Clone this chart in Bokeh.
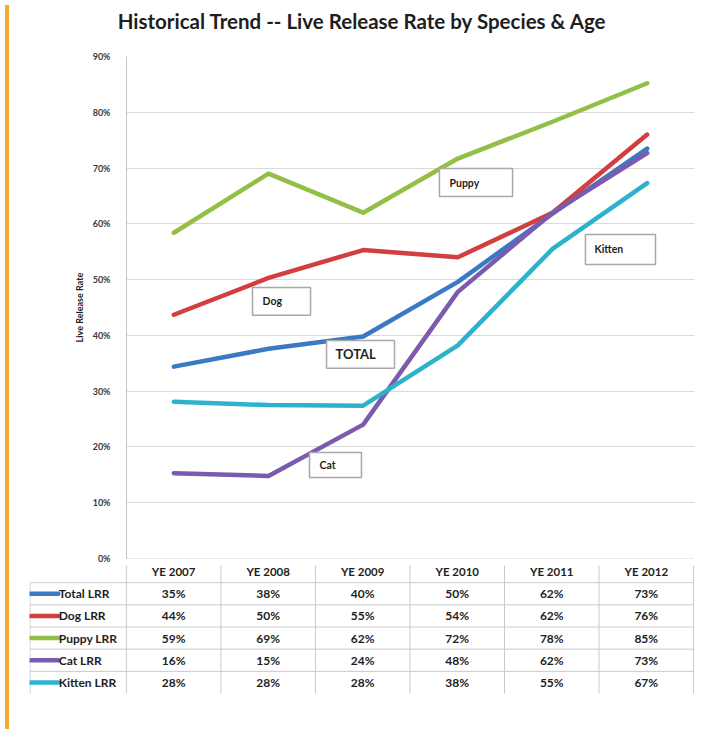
from bokeh.plotting import figure
from bokeh.models import Range1d, FactorRange, Div, FixedTicker, ColumnDataSource, Span
from bokeh.layouts import row, column
from bokeh.embed import file_html
from bokeh.resources import INLINE
from bokeh.core.properties import value

# ---------------- data ----------------
title_text = "Historical Trend -- Live Release Rate by Species & Age"
years = ["YE 2007", "YE 2008", "YE 2009", "YE 2010", "YE 2011", "YE 2012"]
series_names = ["Total LRR", "Dog LRR", "Puppy LRR", "Cat LRR", "Kitten LRR"]

# plotted line values (percent)
total_lrr = [34.4, 37.6, 39.8, 49.6, 61.8, 73.5]
dog_lrr = [43.7, 50.3, 55.3, 54.0, 62.0, 76.0]
puppy_lrr = [58.4, 69.0, 62.0, 71.7, 78.3, 85.2]
cat_lrr = [15.3, 14.8, 24.0, 47.8, 62.0, 72.7]
kitten_lrr = [28.1, 27.5, 27.4, 38.2, 55.5, 67.3]

# values printed in the data table (percent)
total_tab = [35, 38, 40, 50, 62, 73]
dog_tab = [44, 50, 55, 54, 62, 76]
puppy_tab = [59, 69, 62, 72, 78, 85]
cat_tab = [16, 15, 24, 48, 62, 73]
kitten_tab = [28, 28, 28, 38, 55, 67]

y_ticks = [0, 10, 20, 30, 40, 50, 60, 70, 80, 90]

callout_text = ["Puppy", "Kitten", "Dog", "TOTAL", "Cat"]

colors = ["#3A79C3", "#D13F3E", "#94BF45", "#7C5AAD", "#2DB2CB"]
line_series = [total_lrr, dog_lrr, puppy_lrr, cat_lrr, kitten_lrr]
table_series = [total_tab, dog_tab, puppy_tab, cat_tab, kitten_tab]

FONT = "Lato"
TXT = "#1e1e1e"
W = 682

# ---------------- title strip ----------------
tt = figure(x_range=Range1d(0, W), y_range=Range1d(36, 0), width=W, height=36,
            output_backend="svg", toolbar_location=None, frame_align=False,
            min_border_left=0, min_border_right=0, min_border_top=0, min_border_bottom=0)
tt.axis.visible = False
tt.grid.visible = False
tt.outline_line_color = None
tt.border_fill_color = "white"
tt.text(x=[348], y=[20], text=[title_text], text_font=value(FONT), text_font_style="bold",
        text_font_size="20.5px", text_color=TXT, text_align="center", text_baseline="middle")

# ---------------- chart ----------------
p = figure(x_range=FactorRange(*years), y_range=Range1d(0, 90),
           width=W, height=529, output_backend="svg", toolbar_location=None, frame_align=False,
           min_border_left=112, min_border_right=2, min_border_top=20, min_border_bottom=7)
p.outline_line_color = None
p.background_fill_color = "white"
p.border_fill_color = "white"
p.xaxis.visible = False
p.xgrid.visible = False

ticker = FixedTicker(ticks=y_ticks)
p.yaxis.ticker = ticker
p.yaxis.major_label_overrides = {t: f"{t}%" for t in y_ticks}
p.yaxis.axis_line_color = "#C4C4C4"
p.yaxis.major_tick_line_color = None
p.yaxis.minor_tick_line_color = None
p.yaxis.major_label_standoff = 10
p.yaxis.major_label_text_font = FONT
p.yaxis.major_label_text_font_size = "9px"
p.yaxis.major_label_text_font_style = "bold"
p.yaxis.major_label_text_color = "#3a3a3a"
p.yaxis.axis_label = "Live Release Rate"
p.yaxis.axis_label_text_font = FONT
p.yaxis.axis_label_text_font_size = "9px"
p.yaxis.axis_label_text_font_style = "bold"
p.yaxis.axis_label_text_color = TXT
p.yaxis.axis_label_standoff = 5
p.ygrid.ticker = ticker
p.ygrid.grid_line_color = "#D9D9D9"

p.add_layout(Span(location=0, dimension="width", line_color="#B0B0B0",
                  line_width=1, line_dash="2 2"))

for vals, c in zip(line_series, colors):
    p.line(years, vals, line_width=4.5, color=c, line_join="round", line_cap="round")

# callout boxes (positions in axis units)
box_src = ColumnDataSource(dict(
    left=[3.306, 4.848, 1.331, 2.113, 1.933],
    right=[4.078, 5.588, 1.944, 2.831, 2.482],
    top=[69.9, 58.1, 48.6, 39.1, 19.0],
    bottom=[64.9, 52.7, 43.6, 34.1, 14.5],
    tx=[3.412, 4.943, 1.437, 2.208, 2.039],
    ty=[67.4, 55.4, 46.1, 36.6, 16.8],
    text=callout_text,
    size=["10.5px", "10.5px", "10.5px", "13px", "10.5px"],
))
p.quad(left="left", right="right", top="top", bottom="bottom", source=box_src,
       fill_color="white", line_color="#A8A8A8", line_width=1.5)
p.text(x="tx", y="ty", text="text", source=box_src, text_font=value(FONT),
       text_font_style="bold", text_font_size="size", text_color=TXT,
       text_align="left", text_baseline="middle")

# ---------------- data table ----------------
ncol = len(years)
nrow = len(series_names)
xl = -1.0246
t = figure(x_range=Range1d(xl, ncol + 0.01), y_range=Range1d(6.315, 0.2255),
           width=W, height=159, output_backend="svg", toolbar_location=None, frame_align=False,
           min_border_left=15, min_border_right=2, min_border_top=0, min_border_bottom=24)
t.axis.visible = False
t.grid.visible = False
t.outline_line_color = None
t.border_fill_color = "white"

gc = "#C9C9C9"
# horizontal lines
t.segment(x0=[xl + 0.005] * nrow, x1=[ncol] * nrow,
          y0=[r + 1 for r in range(nrow)], y1=[r + 1 for r in range(nrow)],
          line_color=gc, line_width=1)
# vertical lines
t.segment(x0=list(range(ncol + 1)), x1=list(range(ncol + 1)),
          y0=[0] * (ncol + 1), y1=[nrow + 1] * (ncol + 1), line_color=gc, line_width=1)
t.segment(x0=[xl + 0.005], x1=[xl + 0.005], y0=[1], y1=[nrow + 1], line_color=gc, line_width=1)

# header
t.text(x=[i + 0.5 for i in range(ncol)], y=[0.5] * ncol, text=years,
       text_font=value(FONT), text_font_style="bold", text_font_size="11.5px",
       text_color=TXT, text_align="center", text_baseline="middle")

# legend keys + row labels
t.segment(x0=[xl + 0.012] * nrow, x1=[-0.72] * nrow,
          y0=[r + 1.5 for r in range(nrow)], y1=[r + 1.5 for r in range(nrow)],
          line_color=colors, line_width=4.5, line_cap="round")
t.text(x=[-0.715] * nrow, y=[r + 1.5 for r in range(nrow)], text=series_names,
       text_font=value(FONT), text_font_style="bold", text_font_size="12px",
       text_color=TXT, text_align="left", text_baseline="middle")

# cells
cx, cy, ct = [], [], []
for r, vals in enumerate(table_series):
    for i, v in enumerate(vals):
        cx.append(i + 0.5)
        cy.append(r + 1.5)
        ct.append(f"{v}%")
t.text(x=cx, y=cy, text=ct, text_font=value(FONT), text_font_style="bold",
       text_font_size="12px", text_color=TXT, text_align="center", text_baseline="middle")

strip = Div(width=4, height=724, styles={"background-color": "#F8A933"})
layout = row(strip, column(tt, p, t, spacing=0), spacing=0)

open("out.html", "w").write(file_html(layout, INLINE))
